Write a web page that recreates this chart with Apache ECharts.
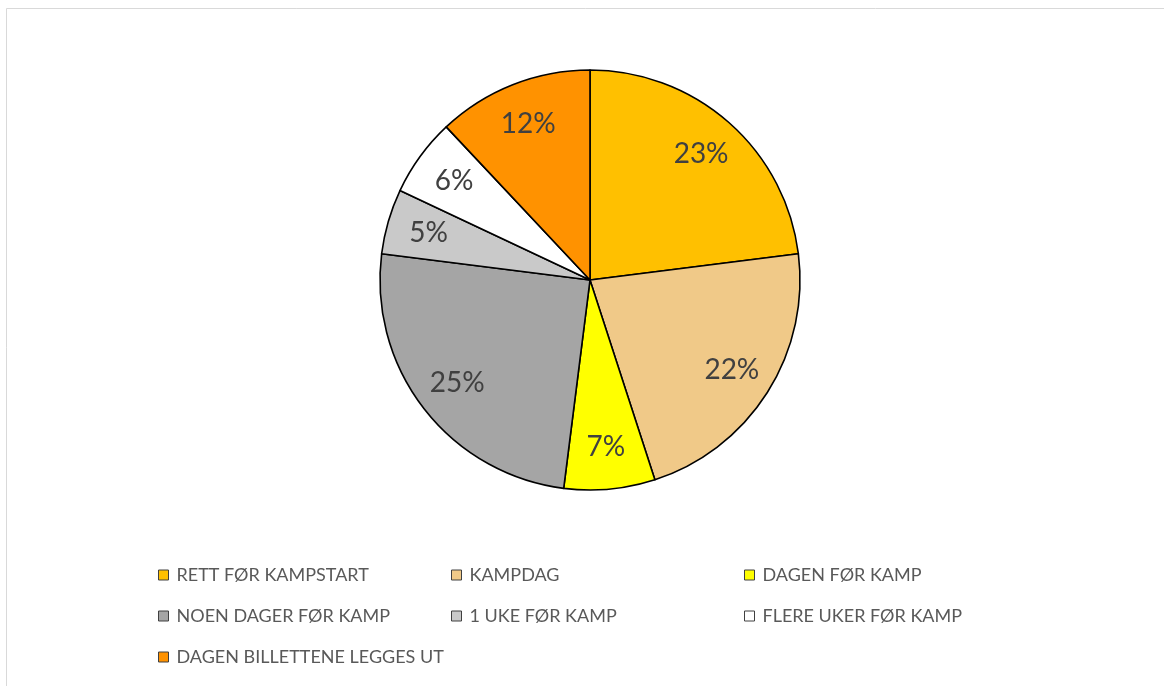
<!DOCTYPE html>
<html>
<head>
<meta charset="utf-8">
<script src="https://cdn.jsdelivr.net/npm/echarts@6/dist/echarts.min.js"></script>
<style>
  html, body { margin: 0; padding: 0; background: #fff; }
  #chart { width: 1164px; height: 686px; }
</style>
</head>
<body>
<div id="chart"></div>
<script>
// Når kjøpes billetten? Andel av svar per kategori (prosent)
const categories = [
  'RETT FØR KAMPSTART',
  'KAMPDAG',
  'DAGEN FØR KAMP',
  'NOEN DAGER FØR KAMP',
  '1 UKE FØR KAMP',
  'FLERE UKER FØR KAMP',
  'DAGEN BILLETTENE LEGGES UT'
];
const shares = [23, 22, 7, 25, 5, 6, 12];
const sliceColors = ['#FFC000', '#F0C988', '#FFFF00', '#A5A5A5', '#C9C9C9', '#FFFFFF', '#FF9200'];

const center = [590, 280];
const outerRadius = 210;
const FONT = 'Lato, "Open Sans", sans-serif';

const pieData = categories.map((name, i) => ({
  name,
  value: shares[i],
  itemStyle: { color: sliceColors[i] }
}));

const chart = echarts.init(document.getElementById('chart'), null, { renderer: 'canvas' });

chart.setOption({
  backgroundColor: '#ffffff',
  animation: false,
  graphic: [{
    type: 'rect',
    shape: { x: 6.5, y: 8.5, width: 1200, height: 700 },
    style: { fill: 'none', stroke: '#D9D9D9', lineWidth: 1 },
    silent: true,
    z: -10
  }],
  legend: {
    data: categories,
    left: 158,
    top: 565,
    width: 900,
    padding: 0,
    orient: 'horizontal',
    icon: 'rect',
    itemWidth: 10,
    itemHeight: 10,
    itemGap: 21,
    itemStyle: { borderColor: '#404040', borderWidth: 1 },
    textStyle: {
      fontFamily: FONT,
      fontSize: 18,
      color: '#595959',
      width: 253.5,
      height: 20,
      lineHeight: 20,
      padding: [0, 0, 0, 3],
      overflow: 'none'
    }
  },
  series: [
    {
      // fylte sektorer
      type: 'pie',
      center,
      radius: [0, outerRadius],
      startAngle: 90,
      clockwise: true,
      silent: true,
      label: { show: false },
      labelLine: { show: false },
      itemStyle: { borderColor: '#000000', borderWidth: 1.6 },
      data: pieData
    },
    {
      // prosentetiketter plassert ytterst i sektorene
      type: 'pie',
      center,
      radius: [120, outerRadius],
      startAngle: 90,
      clockwise: true,
      silent: true,
      legendHoverLink: false,
      itemStyle: { color: 'rgba(0,0,0,0)', borderWidth: 0 },
      label: {
        show: true,
        position: 'inside',
        formatter: '{c}%',
        fontFamily: FONT,
        fontSize: 28,
        color: '#404040'
      },
      labelLine: { show: false },
      data: categories.map((name, i) => ({ name: name + ' ', value: shares[i] }))
    }
  ]
});
</script>
</body>
</html>
